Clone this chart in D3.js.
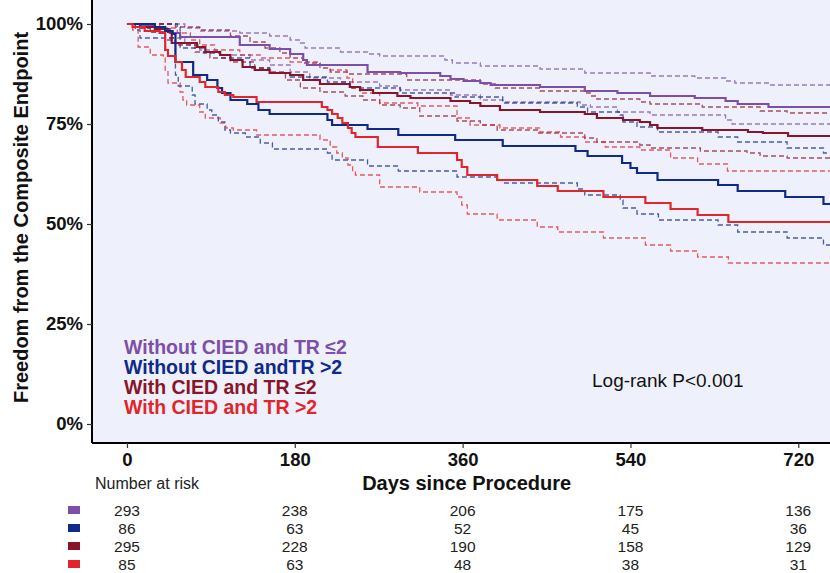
<!DOCTYPE html>
<html>
<head>
<meta charset="utf-8">
<script src="https://cdn.jsdelivr.net/npm/d3@7"></script>
<style>
  body { margin: 0; background: #ffffff; }
  text { font-family: Arial, "Liberation Sans", sans-serif; }
</style>
</head>
<body>
<div id="chart"></div>
<script>
// Kaplan-Meier steps: [day, % free from endpoint]
var purpleKM = [[0,100],[14,99.5],[30,98.75],[46,97.75],[57,96.75],[121,94.75],[153,93.75],[175,92.5],[189,91],[193,89.75],[258,88],[293,87.75],[336,87],[347,86.25],[361,85.75],[379,85.25],[390,84.75],[443,84.25],[491,83.25],[526,82.75],[561,82],[609,81.5],[642,80.75],[655,80],[688,79.25]];
var purpleUp = [[0,100],[52,100],[62,99],[78,98.25],[121,97.75],[153,97],[175,96],[186,95.25],[191,94],[229,93],[258,92.5],[271,92],[341,91],[349,90.25],[379,89.5],[443,88.75],[491,87.75],[561,87],[609,86.5],[642,85.75],[652,85.25],[688,84.75]];
var purpleLo = [[0,100],[14,99],[25,98],[46,96.5],[62,94.75],[78,93.5],[100,92.25],[132,91],[153,89.75],[175,88],[196,86.5],[229,85.5],[271,84.5],[293,83.5],[347,82.25],[379,81],[403,80.5],[486,79.75],[497,79.25],[526,78],[561,77.25],[642,76],[649,75]];

var blueKM = [[0,100],[30,99.25],[41,98.25],[49,97.5],[52,90.5],[71,87.25],[86,86],[97,84],[102,82.75],[111,81],[129,80],[141,78.5],[153,77.5],[215,76],[220,74.75],[258,73.75],[291,72.25],[352,71],[403,69.5],[481,68.25],[494,67],[531,65.25],[540,64],[547,62.75],[569,61],[634,59.75],[655,58.25],[706,56.75],[747,55]];
var blueUp = [[0,100],[46,100],[54,99.25],[57,94],[82,92.75],[100,91.5],[132,89],[153,87.75],[175,86.75],[215,85.5],[239,84],[293,82.75],[352,81.75],[403,80.25],[483,79.25],[494,78],[529,77.25],[532,75.5],[547,74.25],[569,73],[634,71.75],[655,70.5],[708,69],[747,67.75]];
var blueLo = [[0,100],[9,98.5],[14,96.5],[52,87.25],[55,84.5],[70,82.25],[73,80],[86,78.5],[91,77.25],[98,75.5],[105,73.5],[111,72.75],[127,71.75],[143,70.25],[156,68.75],[215,67.75],[220,66],[258,64.5],[291,63.25],[354,61.75],[397,61],[403,60.25],[483,58.75],[491,57.25],[529,56],[532,54],[547,52.5],[570,51],[634,49.75],[655,48],[708,46.5],[747,44.75]];

var maroonKM = [[0,100],[14,99.25],[30,98.75],[44,98],[48,95.25],[75,94.25],[84,93],[100,92.25],[111,91],[124,89.25],[137,88.5],[153,87.75],[175,87.25],[189,86],[207,85],[239,84.25],[250,83.5],[264,82.75],[290,82],[304,81.5],[347,80.75],[368,80.25],[379,79.5],[400,78.5],[443,78],[491,77.5],[504,76.5],[532,76],[550,75.5],[561,74.75],[569,74],[617,73.5],[666,73],[682,72.75],[709,72]];
var maroonUp = [[0,100],[41,100],[52,99.25],[78,98.5],[111,97],[132,95.5],[148,94],[164,92.75],[175,91.5],[189,90.25],[207,89],[218,88],[236,87.5],[300,86],[379,85],[395,84],[443,83.25],[491,82.75],[497,82],[504,81.25],[550,80.5],[561,80],[617,79.25],[679,78.25],[708,77.75]];
var maroonLo = [[0,100],[9,99],[25,98],[41,96],[52,94.75],[73,93],[89,91.5],[111,90.5],[137,89],[153,88],[170,86],[186,84],[207,83],[234,82],[253,81],[271,79.75],[293,79],[314,77],[354,75.75],[379,74.75],[397,73.5],[440,72.75],[491,71.5],[504,70.5],[550,69.75],[561,69],[615,68.25],[665,67.75],[679,67],[708,66.5]];

var redKM = [[0,100],[6,99.25],[19,98.25],[35,97.75],[41,93.5],[44,92],[52,90.5],[59,88.5],[63,86.75],[78,85.5],[84,84.25],[98,83],[105,82.25],[114,81.75],[139,80.5],[209,79.25],[215,78.5],[220,77.5],[226,76.5],[231,75.25],[237,74],[241,72.75],[245,71.75],[269,69.25],[312,67.75],[354,66],[359,64.25],[365,62.25],[397,61],[440,59.5],[462,58.25],[511,56.75],[556,55.25],[583,53.75],[612,52.25],[645,50.5]];
var redUp = [[0,100],[21,100],[35,99],[54,97.75],[68,96],[78,94.75],[94,93.5],[121,92.25],[143,91.5],[175,90.5],[207,89.75],[218,88.5],[236,86.5],[242,84],[250,82.75],[271,80.25],[312,79.5],[354,76.5],[368,74.75],[400,74],[443,73],[465,71.75],[491,70.5],[513,69.25],[550,68.5],[583,66.5],[612,65],[644,63.25]];
var redLo = [[0,100],[6,98.5],[12,94.25],[25,92.25],[39,91.5],[41,88.5],[44,85.25],[57,83],[60,81],[64,79.75],[78,78],[84,76.5],[100,75.25],[106,74],[114,73.5],[139,72.25],[207,71],[218,69.25],[225,67.75],[231,66.5],[237,64.75],[242,63],[245,62.25],[271,59.25],[314,58],[354,56.75],[359,54.75],[365,52.5],[397,51],[440,49.25],[462,48],[511,46.5],[556,44.75],[583,43.25],[612,41.75],[645,40.25]];

var groupNames = ["Without CIED and TR \u22642", "Without CIED andTR >2", "With CIED and TR \u22642", "With CIED and TR >2"];
var xTicks = [0, 180, 360, 540, 720];
var yTicks = [0, 25, 50, 75, 100];
var riskPurple = [293, 238, 206, 175, 136];
var riskBlue = [86, 63, 52, 45, 36];
var riskMaroon = [295, 228, 190, 158, 129];
var riskRed = [85, 63, 48, 38, 31];

var colors = ["#7e4fa6", "#0f2a87", "#8b1528", "#e1262b"];

var svgWidth = 830, svgHeight = 573;
var panel = {left: 92, right: 830, top: 0, bottom: 443};

var svg = d3.select("#chart").append("svg")
  .attr("width", svgWidth)
  .attr("height", svgHeight);

var x = d3.scaleLinear().domain([-37.5, 754]).range([panel.left, panel.right]);
var y = d3.scaleLinear().domain([-4.75, 106]).range([panel.bottom, panel.top]);

// panel background
svg.append("rect")
  .attr("x", panel.left).attr("y", panel.top)
  .attr("width", panel.right - panel.left)
  .attr("height", panel.bottom - panel.top)
  .attr("fill", "#eef1fc");

svg.append("clipPath").attr("id", "clip")
  .append("rect")
  .attr("x", panel.left).attr("y", panel.top)
  .attr("width", panel.right - panel.left)
  .attr("height", panel.bottom - panel.top);

var line = d3.line()
  .x(d => x(d[0]))
  .y(d => y(d[1]))
  .curve(d3.curveStepAfter);

// carry the last value on to the right edge
function extend(arr) {
  return arr.concat([[760, arr[arr.length - 1][1]]]);
}

var curves = [
  {km: purpleKM, up: purpleUp, lo: purpleLo},
  {km: blueKM, up: blueUp, lo: blueLo},
  {km: maroonKM, up: maroonUp, lo: maroonLo},
  {km: redKM, up: redUp, lo: redLo}
];

var plot = svg.append("g").attr("clip-path", "url(#clip)");

// confidence bands (dashed)
curves.forEach(function(c, i) {
  [c.up, c.lo].forEach(function(band) {
    plot.append("path")
      .attr("d", line(extend(band)))
      .attr("fill", "none")
      .attr("stroke", colors[i])
      .attr("stroke-opacity", 0.75)
      .attr("stroke-width", 1.3)
      .attr("stroke-dasharray", "5,3");
  });
});

// survival curves
[0, 2, 1, 3].forEach(function(i) {
  plot.append("path")
    .attr("d", line(extend(curves[i].km)))
    .attr("fill", "none")
    .attr("stroke", colors[i])
    .attr("stroke-width", 2.2);
});

// axes
var yAxis = svg.append("g")
  .attr("transform", `translate(${panel.left},0)`)
  .call(d3.axisLeft(y).tickValues(yTicks).tickSize(5).tickFormat(d => d + "%"));
var xAxis = svg.append("g")
  .attr("transform", `translate(0,${panel.bottom})`)
  .call(d3.axisBottom(x).tickValues(xTicks).tickSize(5));

[xAxis, yAxis].forEach(function(ax) {
  ax.select(".domain").attr("stroke", "#000").attr("stroke-width", 2);
  ax.selectAll(".tick line").attr("stroke", "#333").attr("stroke-width", 1.2);
  ax.selectAll("text")
    .attr("fill", "#111")
    .style("font-size", "18.5px")
    .style("font-weight", "bold");
});
yAxis.selectAll("text").attr("x", -9);
xAxis.selectAll("text").attr("y", 10);
// keep axis lines running along the whole panel
yAxis.select(".domain").attr("d", `M0,${panel.top}V${panel.bottom}`);
xAxis.select(".domain").attr("d", `M${panel.left},0H${panel.right}`);

svg.append("text")
  .attr("transform", `translate(28,${(panel.bottom - 20) / 2 + 6}) rotate(-90)`)
  .attr("text-anchor", "middle")
  .style("font-size", "20px")
  .style("font-weight", "bold")
  .attr("fill", "#111")
  .text("Freedom from the Composite Endpoint");

svg.append("text")
  .attr("x", x(360) + 4)
  .attr("y", 490)
  .attr("text-anchor", "middle")
  .style("font-size", "20px")
  .style("font-weight", "bold")
  .attr("fill", "#111")
  .text("Days since Procedure");

// legend
svg.selectAll(".legendText")
  .data(groupNames)
  .enter()
  .append("text")
  .attr("x", 124)
  .attr("y", (d, i) => 354 + i * 20)
  .attr("fill", (d, i) => colors[i])
  .style("font-size", "19.5px")
  .style("font-weight", "bold")
  .text(d => d);

svg.append("text")
  .attr("x", 592)
  .attr("y", 387)
  .style("font-size", "19px")
  .attr("fill", "#111")
  .text("Log-rank P<0.001");

// number at risk table
svg.append("text")
  .attr("x", 95)
  .attr("y", 489)
  .style("font-size", "16px")
  .attr("fill", "#222")
  .text("Number at risk");

var riskRows = [riskPurple, riskBlue, riskMaroon, riskRed];
var rowY = d3.scalePoint().domain([0, 1, 2, 3]).range([510, 564]);

riskRows.forEach(function(row, i) {
  svg.append("rect")
    .attr("x", 68)
    .attr("y", rowY(i) - 4)
    .attr("width", 12)
    .attr("height", 8)
    .attr("fill", colors[i]);
  svg.selectAll(".risk" + i)
    .data(row)
    .enter()
    .append("text")
    .attr("x", (d, j) => x(xTicks[j]))
    .attr("y", rowY(i) + 5.5)
    .attr("text-anchor", "middle")
    .style("font-size", "15.5px")
    .attr("fill", "#222")
    .text(d => d);
});
</script>
</body>
</html>
